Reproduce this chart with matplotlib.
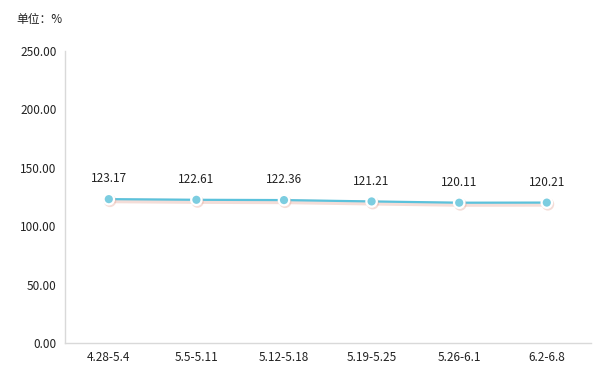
import matplotlib
matplotlib.use('Agg')
import matplotlib.pyplot as plt
import matplotlib.patheffects as pe

plt.rcParams['font.family'] = ['Noto Sans CJK SC', 'DejaVu Sans']

categories = ['4.28-5.4', '5.5-5.11', '5.12-5.18', '5.19-5.25', '5.26-6.1', '6.2-6.8']
values = [123.17, 122.61, 122.36, 121.21, 120.11, 120.21]
yticks = [0, 50, 100, 150, 200, 250]

fig = plt.figure(figsize=(6.11, 3.73), dpi=100)
ax = fig.add_axes([0.1064, 0.0804, 0.8602, 0.7829])

x = list(range(len(categories)))
shadow = [pe.SimpleLineShadow(offset=(0.8, -1.2), shadow_color='#e0a090', alpha=0.35, linewidth=3.5), pe.Normal()]
ax.plot(x, values, color='#5bc2dc', linewidth=1.6, zorder=3, path_effects=shadow)
ax.plot(x, values, linestyle='none', marker='o', markersize=7.5, markerfacecolor='#7ccde0',
        markeredgecolor='white', markeredgewidth=1.6, zorder=4,
        path_effects=[pe.SimpleLineShadow(offset=(0.8, -1.2), shadow_color='#e0a090', alpha=0.35), pe.Normal()])

for xi, v in zip(x, values):
    ax.annotate(f'{v:.2f}', (xi, v), xytext=(0, 10), textcoords='offset points',
                ha='center', va='bottom', fontsize=8.5, color='#222222')

ax.set_xlim(-0.5, len(categories) - 0.5)
ax.set_ylim(0, 250)
ax.set_yticks(yticks)
ax.set_yticklabels([f'{t:.2f}' for t in yticks], fontsize=8.5, color='#222222')
ax.set_xticks(x)
ax.set_xticklabels(categories, fontsize=8.5, color='#222222')
ax.tick_params(length=0, pad=6)

for s in ['top', 'right']:
    ax.spines[s].set_visible(False)
for s in ['left', 'bottom']:
    ax.spines[s].set_color('#d9d9d9')
    ax.spines[s].set_linewidth(1)

fig.text(16 / 611, 1 - 19 / 373, '单位：%', fontsize=8.5, va='center', ha='left', color='#222222')

fig.savefig('out.png', dpi=100, facecolor='white')
